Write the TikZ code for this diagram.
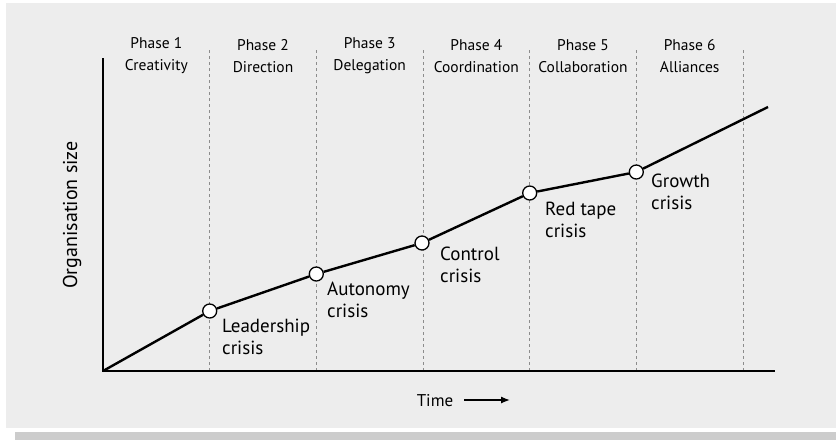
\documentclass[tikz,border=0pt]{standalone}
\usepackage{fontspec}
\setmainfont{PT Sans}
\usetikzlibrary{positioning,arrows.meta}
\tikzstyle{crisis} = [draw, shape=circle, fill=white, minimum size=14pt, inner sep=0pt, line width=1.3pt]
\tikzstyle{phase} = [align=center, font=\fontsize{15.5}{22}\selectfont]
\tikzstyle{note} = [align=left, anchor=base west, inner sep=0pt, font=\fontsize{19}{22.5}\selectfont]
\tikzstyle{divider} = [black!45, dashed, line width=.7pt]

\begin{document}
\begin{tikzpicture}[x=1pt,y=-1pt]
    \useasboundingbox (0,0) rectangle (836,440);
    \fill[white] (0,0) rectangle (836,440);
    \fill[black!7] (6,3) rectangle (836,428);
    \fill[black!20] (15,432) rectangle (836,440);
    % dividers between phases
    \foreach \i in {1,...,6}
        \draw[divider] (103+106.67*\i,50) -- (103+106.67*\i,371);
    % phase headings
    \foreach \i/\name in {1/Creativity,2/Direction,3/Delegation,4/Coordination,5/Collaboration,6/Alliances}
        \node[phase] (p\i) at (103+106.67*\i-53.33,56) {Phase \i\\\name};
    % axes
    \draw[line width=1.6pt] (103,58) -- (103,371) -- (775,371);
    \node[rotate=90, font=\fontsize{20}{22}\selectfont] (size) at (72,215) {Organisation size};
    \node[font=\fontsize{17}{20}\selectfont, anchor=base] (time) at (435,406) {Time};
    \coordinate (tail) at (464,400);
    \coordinate (tip) at (510,400);
    \draw[-{Latex[length=9pt,width=7pt]}, line width=1.3pt] (tail) -- (tip);
    % growth path
    \coordinate (o) at (103,371);
    \coordinate (end) at (768,107);
    \node[crisis] (c1) at (209.7,311) {};
    \node[crisis] (c2) at (316.3,274) {};
    \node[crisis] (c3) at (422,243) {};
    \node[crisis] (c4) at (529.7,193) {};
    \node[crisis] (c5) at (636.3,172) {};
    \draw[line width=2.4pt] (o) -- (c1) -- (c2) -- (c3) -- (c4) -- (c5) -- (end);
    % labels, anchored on the baseline of their last line
    \node[note] (n1) at (222,354.5) {Leadership\\crisis};
    \node[note] (n2) at (327,317.5) {Autonomy\\crisis};
    \node[note] (n3) at (440,282.5) {Control\\crisis};
    \node[note] (n4) at (545,237.5) {Red tape\\crisis};
    \node[note] (n5) at (651,209.5) {Growth\\crisis};
\end{tikzpicture}
\end{document}
